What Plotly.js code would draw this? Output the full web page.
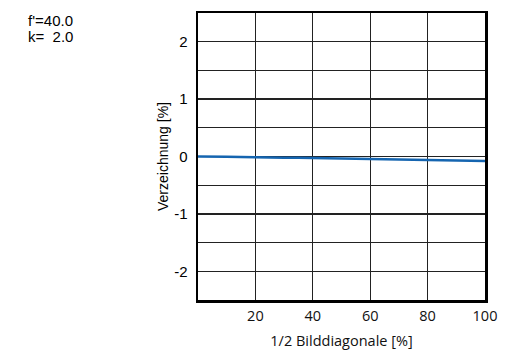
<!DOCTYPE html>
<html>
<head>
<meta charset="utf-8">
<script src="https://cdn.plot.ly/plotly-3.0.1.min.js"></script>
<style>html,body{margin:0;padding:0;background:#fff;}#chart{width:527px;height:350px;}</style>
</head>
<body>
<div id="chart"></div>
<script>
// Data
const bildDiagonale = [0, 10, 20, 30, 40, 50, 60, 70, 80, 90, 100];
const verzeichnung = [0, -0.006, -0.013, -0.02, -0.028, -0.036, -0.044, -0.052, -0.06, -0.07, -0.08];
const xTickVals = [20, 40, 60, 80, 100];
const xTickText = ['20', '40', '60', '80', '100'];
const yTickVals = [-2, -1.5, -1, -0.5, 0, 0.5, 1, 1.5, 2];
const yTickText = ['-2', '', '-1', '', '0', '', '1', '', '2'];
const infoLines = ["f'=40.0", "k=  2.0"];

const arial = 'Liberation Sans, Arial, sans-serif';
const segoe = 'Open Sans, Noto Sans, sans-serif';
const yFont = {family: arial, size: 15, color: '#000'};
const xFont = {family: segoe, size: 14.5, color: '#111'};
const annFont = {family: arial, size: 15, color: '#000'};

const trace = {
  x: bildDiagonale, y: verzeichnung, type: 'scatter', mode: 'lines',
  line: {color: '#1565b0', width: 2.5, shape: 'spline'}, hoverinfo: 'skip'
};

const layout = {
  width: 527, height: 350,
  margin: {l: 198, r: 42, t: 13, b: 50},
  paper_bgcolor: '#fff', plot_bgcolor: '#fff',
  font: yFont,
  showlegend: false,
  xaxis: {
    range: [0, 100], tickvals: xTickVals, ticktext: xTickText,
    showgrid: true, gridcolor: '#222', gridwidth: 1.3,
    showline: true, linecolor: '#000', linewidth: 2.5, mirror: true,
    zeroline: false, ticks: '', tickfont: xFont, ticklabelstandoff: 1,
    title: {text: '1/2 Bilddiagonale [%]', font: xFont, standoff: 12}
  },
  yaxis: {
    range: [-2.5, 2.5], tickvals: yTickVals, ticktext: yTickText,
    showgrid: true, gridcolor: '#222', gridwidth: 1.3,
    showline: true, linecolor: '#000', linewidth: 2.5, mirror: true,
    zeroline: false, ticks: '', tickfont: yFont, ticklabelstandoff: 5,
    title: {text: 'Verzeichnung [%]', font: {family: arial, size: 14, color: '#000'}, standoff: 3}
  },
  annotations: infoLines.map((t, i) => ({
    text: t, xref: 'paper', yref: 'paper', x: -0.596, y: 0.9756 - i * 0.0592,
    xanchor: 'left', yanchor: 'middle', showarrow: false, font: annFont, borderpad: 0
  }))
};

Plotly.newPlot('chart', [trace], layout, {staticPlot: true, displayModeBar: false});
</script>
</body>
</html>
